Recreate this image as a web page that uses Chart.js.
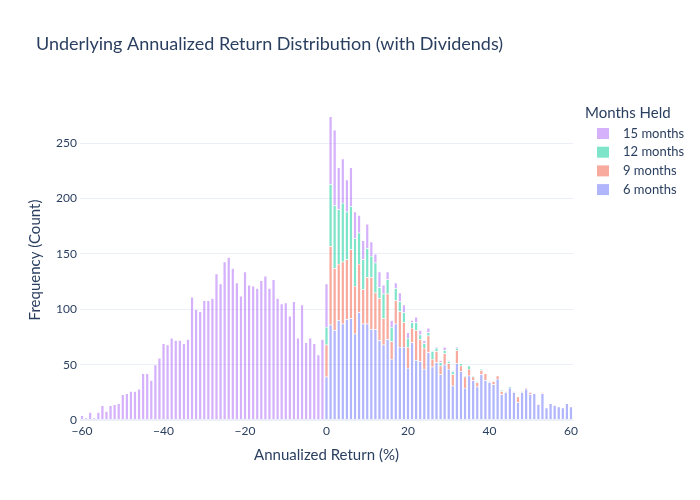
<!DOCTYPE html>
<html>
<head>
<meta charset="utf-8">
<script src="https://cdn.jsdelivr.net/npm/chart.js@4.4.0/dist/chart.umd.min.js"></script>
<style>
html,body{margin:0;padding:0;background:#ffffff;}
#wrap{width:700px;height:500px;}
</style>
</head>
<body>
<div id="wrap"><canvas id="c" width="700" height="500"></canvas></div>
<script>
// ---------- DATA ----------
const chartTitle = 'Underlying Annualized Return Distribution (with Dividends)';
const xAxisTitle = 'Annualized Return (%)';
const yAxisTitle = 'Frequency (Count)';
const legendTitle = 'Months Held';

const binCenters = [
  -60,-59,-58,-57,-56,-55,-54,-53,-52,-51,-50,-49,-48,-47,-46,-45,-44,-43,-42,-41,
  -40,-39,-38,-37,-36,-35,-34,-33,-32,-31,-30,-29,-28,-27,-26,-25,-24,-23,-22,-21,
  -20,-19,-18,-17,-16,-15,-14,-13,-12,-11,-10,-9,-8,-7,-6,-5,-4,-3,-2,-1,
  0,1,2,3,4,5,6,7,8,9,10,11,12,13,14,15,16,17,18,19,
  20,21,22,23,24,25,26,27,28,29,30,31,32,33,34,35,36,37,38,39,
  40,41,42,43,44,45,46,47,48,49,50,51,52,53,54,55,56,57,58,59,60
];

const seriesLabels = ['6 months','9 months','12 months','15 months'];

const months6 = [
  0,0,0,0,0,0,0,0,0,0,0,0,0,0,0,0,0,0,0,0,
  0,0,0,0,0,0,0,0,0,0,0,0,0,0,0,0,0,0,0,0,
  0,0,0,0,0,0,0,0,0,0,0,0,0,0,0,0,0,0,0,0,
  39,86,81,90,87,91,92,78,97,87,87,82,82,72,68,73,55,87,66,66,
  47,70,54,53,46,61,48,52,41,50,46,31,51,44,29,40,36,30,41,36,
  34,32,37,23,25,29,25,16,25,28,23,24,14,24,11,15,13,12,11,15,12
];
const months9 = [
  0,0,0,0,0,0,0,0,0,0,0,0,0,0,0,0,0,0,0,0,
  0,0,0,0,0,0,0,0,0,0,0,0,0,0,0,0,0,0,0,0,
  0,0,0,0,0,0,0,0,0,0,0,0,0,0,0,0,0,0,0,0,
  29,71,56,51,56,54,62,43,44,31,42,47,33,38,24,41,16,21,32,22,
  19,13,27,20,19,15,7,10,8,10,5,10,12,5,10,6,3,4,4,6,
  1,3,3,3,1,0,1,5,1,1,2,0,1,1,0,0,1,0,0,0,0
];
const months12 = [
  0,0,0,0,0,0,0,0,0,0,0,0,0,0,0,0,0,0,0,0,
  0,0,0,0,0,0,0,0,0,0,0,0,0,0,0,0,0,0,0,0,
  0,0,0,0,0,0,0,0,0,0,0,0,0,0,0,0,0,0,0,0,
  16,56,57,49,53,43,39,43,28,27,26,19,27,10,22,13,13,11,9,9,
  8,5,7,4,4,3,7,3,3,3,2,3,2,2,1,3,1,1,1,0,
  0,0,0,1,0,1,0,0,0,0,0,0,0,0,0,0,0,0,0,0,0
];
const months15 = [
  4,2,7,2,7,13,8,13,14,15,23,24,26,26,28,42,42,36,50,56,
  69,68,74,72,72,69,73,111,100,98,108,108,110,132,123,143,147,137,124,112,
  134,122,121,119,126,130,119,127,110,105,106,94,107,74,104,70,74,69,59,73,
  39,61,68,38,40,29,35,24,16,17,22,13,8,14,8,7,6,5,8,7,
  5,2,5,4,3,4,1,1,2,3,1,1,1,0,0,0,0,0,0,0,
  0,0,0,0,0,0,0,0,0,0,0,0,0,0,0,0,0,0,0,0,0
];

const xTickValues = [-60,-40,-20,0,20,40,60];
const xTickLabels = ['\u221260','\u221240','\u221220','0','20','40','60'];
const yTickValues = [0,50,100,150,200,250];

// ---------- STYLE ----------
const FONT = 'Lato, "Source Sans Pro", "Open Sans", sans-serif';
const TEXT = '#2a3f5f';
const GRID = '#EBF0F8';
const seriesColors = [
  'rgba(99,110,250,0.5)',
  'rgba(239,85,59,0.5)',
  'rgba(0,204,150,0.5)',
  'rgba(171,99,250,0.5)'
];
const seriesValues = [months6, months9, months12, months15];

const datasets = seriesValues.map((vals, i) => ({
  label: seriesLabels[i],
  data: binCenters.map((x, j) => ({ x: x, y: vals[j] ? vals[j] : null })),
  backgroundColor: seriesColors[i],
  borderColor: '#ffffff',
  borderWidth: 0.5,
  stack: 's',
  barPercentage: 0.8,
  categoryPercentage: 1.0
}));

const overlay = {
  id: 'overlay',
  afterDraw(chart) {
    const ctx = chart.ctx;
    ctx.save();
    ctx.fillStyle = TEXT;
    ctx.textAlign = 'left';
    ctx.textBaseline = 'middle';
    ctx.font = '18px ' + FONT;
    ctx.fillText(chartTitle, 36, 44);
    ctx.font = '15px ' + FONT;
    ctx.fillText(legendTitle, 585, 113);
    const order = [3, 2, 1, 0];
    order.forEach((di, k) => {
      const ds = chart.data.datasets[di];
      const y = 133.5 + k * 18.7;
      ctx.fillStyle = ds.backgroundColor;
      ctx.fillRect(597, y - 5.5, 12, 11);
      ctx.fillStyle = TEXT;
      ctx.font = '13px ' + FONT;
      ctx.fillText(ds.label, 623, y);
    });
    ctx.restore();
  }
};

new Chart(document.getElementById('c'), {
  type: 'bar',
  data: { datasets: datasets },
  plugins: [overlay],
  options: {
    responsive: false,
    animation: false,
    devicePixelRatio: 1,
    layout: { padding: { left: 0, top: 100, right: 127, bottom: 0 } },
    plugins: { legend: { display: false }, title: { display: false }, tooltip: { enabled: false } },
    scales: {
      x: {
        type: 'linear',
        stacked: true,
        min: -60.5,
        max: 60.5,
        offset: false,
        afterBuildTicks(s) { s.ticks = xTickValues.map(v => ({ value: v })); },
        afterFit(s) { s.height = 80; },
        grid: { display: false, drawTicks: false },
        border: { display: false },
        ticks: {
          padding: 4,
          color: TEXT,
          font: { family: FONT, size: 12 },
          maxRotation: 0,
          autoSkip: false,
          callback: (v) => { const i = xTickValues.indexOf(v); return i >= 0 ? xTickLabels[i] : ''; }
        },
        title: { display: true, text: xAxisTitle, color: TEXT, font: { family: FONT, size: 15 }, padding: { top: 0, bottom: 36 } }
      },
      y: {
        stacked: true,
        min: 0,
        max: 289,
        afterBuildTicks(s) { s.ticks = yTickValues.map(v => ({ value: v })); },
        afterFit(s) { s.width = 80; },
        grid: { color: GRID, drawTicks: false, lineWidth: (c) => (c.tick && c.tick.value === 0 ? 2 : 1) },
        border: { display: false },
        ticks: { padding: 3, color: TEXT, font: { family: FONT, size: 12 } },
        title: { display: true, text: yAxisTitle, color: TEXT, font: { family: FONT, size: 15 }, padding: { top: 26, bottom: 0 } }
      }
    }
  }
});
</script>
</body>
</html>
